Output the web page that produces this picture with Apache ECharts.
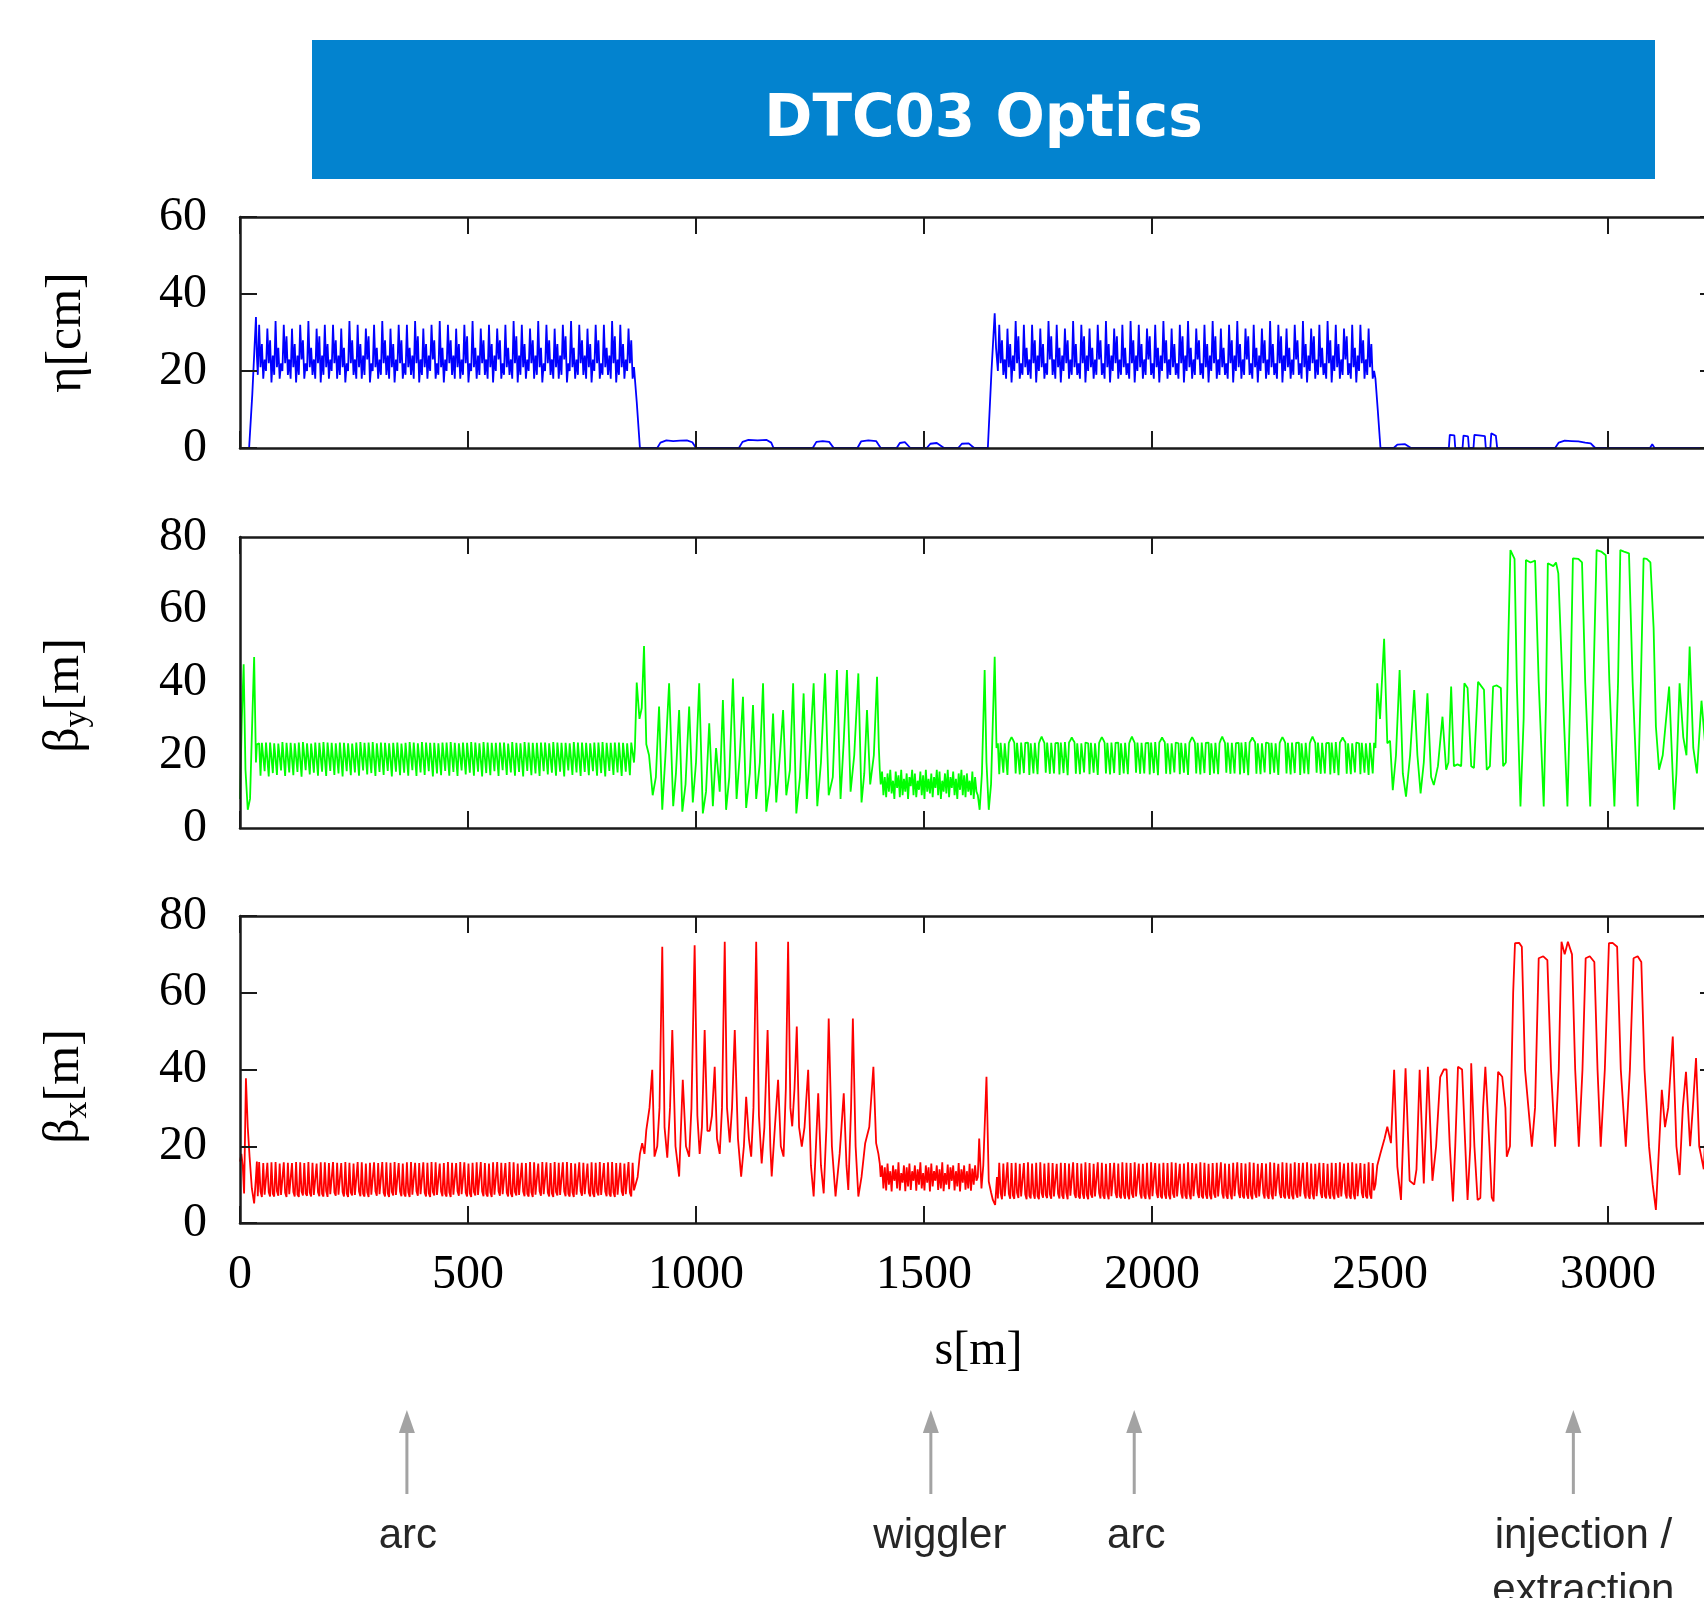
<!DOCTYPE html>
<html><head><meta charset="utf-8">
<script src="https://cdn.jsdelivr.net/npm/echarts@6/dist/echarts.min.js"></script>
<style>html,body{margin:0;padding:0;background:#fff}#c{width:1704px;height:1598px}</style>
</head><body><div id="c"></div>
<script>
// ================= DATA =================
const chartTitle = 'DTC03 Optics';
const sMax = 3239;                       // ring circumference [m]
const xTickLabels = [0, 500, 1000, 1500, 2000, 2500, 3000];
const xTickMarks = [0, 500, 1000, 1500, 2000, 3000];
const etaMax = 60, betaMax = 80;
const annotS = [366, 1515, 1961, 2924];
const annotText = ['arc', 'wiggler', 'arc', 'injection /\nextraction'];

// sampling of the dense periodic sections (arcs / wiggler)
const ARC_STEP = 3, ARC1_START = 39, ARC2_START = 1662, WIG_START = 1405;

// ---- eta [cm] ----
const etaPre = [[0,0],[20,0],[27,14],[35,34],[37,24]];
const etaArc1 = [
19,32,21,27,18,23, 20,31,22,28,17,24, 19,33,21,26,18,22, 20,32,22,29,19,23,
18,31,21,27,17,24, 19,32,23,28,18,22, 20,33,21,26,19,23, 18,31,22,29,17,24,
19,32,21,27,18,23, 20,32,22,28,18,24, 19,31,21,26,17,22, 20,33,22,28,19,23,
18,32,21,27,18,24, 19,31,23,29,17,22, 20,32,21,26,18,23, 19,33,22,28,19,24,
18,31,21,27,17,23, 20,32,22,28,18,22, 19,32,21,26,19,24, 18,33,22,29,17,23,
19,31,21,27,18,24, 20,32,23,28,18,22, 19,33,21,26,17,23, 20,32,22,28,19,24,
18,31,21,27,18,23, 19,32,22,29,17,22, 20,33,21,26,18,24, 19,31,22,28,19,23,
18,32,21,27,17,24, 20,31,23,28,18,22, 19,32,21,26,19,23, 18,33,22,29,17,24,
19,32,21,27,18,23, 20,31,22,28,18,24, 19,33,21,26,17,22, 20,32,22,28,19,23,
18,31,21,27,18,24, 19,32,23,29,17,22, 20,33,21,26,18,23, 19,32,22,28,19,24,
18,31,21,27,17,23, 20,32,22,28,18,22, 19,32,21,26,19,24, 18,33,22,29,17,23,
19,32,21,27,18,23, 20,31,22,28,18,21];
const etaMid = [[866,18],[870,12],[877,0],[915,0],[922,1.4],[935,2],[950,1.8],[965,1.9],[980,2],[992,1.5],[1000,0],
[1094,0],[1102,1.6],[1115,2.1],[1135,2],[1155,2.1],[1165,1.4],[1170,0],[1256,0],[1264,1.6],[1278,1.8],[1292,1.6],[1302,0],
[1354,0],[1362,1.7],[1378,2],[1395,1.8],[1405,0],[1440,0],[1447,1.3],[1458,1.5],[1470,0],[1506,0],[1514,1.1],[1528,1.3],[1544,0],
[1575,0],[1583,1.1],[1598,1.2],[1610,0],[1640,0],[1648,20],[1655,35],[1658,26]];
const etaArc2 = [
20,32,22,28,19,23, 18,31,21,27,17,24, 20,33,22,29,18,22, 19,32,21,26,19,23,
18,32,22,28,17,24, 20,31,21,27,18,22, 19,33,23,29,19,23, 18,32,21,26,17,24,
20,31,22,28,18,23, 19,33,21,27,19,22, 18,32,22,29,17,24, 20,31,21,26,18,23,
19,32,23,28,19,22, 18,33,21,27,17,24, 20,31,22,29,18,23, 19,32,21,26,19,22,
18,33,22,28,17,24, 20,32,21,27,18,23, 19,31,23,29,19,22, 18,32,21,26,17,24,
20,33,22,28,18,23, 19,31,21,27,19,22, 18,32,22,29,17,24, 20,33,21,26,18,23,
19,31,23,28,19,22, 18,32,21,27,17,24, 20,33,22,29,18,23, 19,31,21,26,19,22,
18,32,22,28,17,24, 20,33,21,27,18,23, 19,31,23,29,19,22, 18,32,21,26,17,24,
20,31,22,28,18,23, 19,33,21,27,19,22, 18,32,22,29,17,24, 20,31,21,26,18,23,
19,32,23,28,19,22, 18,33,21,27,17,24, 20,31,22,29,18,23, 19,32,21,26,19,22,
18,33,22,28,17,24, 20,32,21,27,18,23, 19,31,23,29,19,22, 18,32,21,26,17,24,
20,32,22,28,18,23, 19,31,21,27,18,20];
const etaPost = [[2490,18],[2495,10],[2501,0],[2530,0],[2538,0.9],[2555,1],[2568,0],[2651,0],[2653,3.4],[2663,3.3],[2665,0],
[2681,0],[2683,3.2],[2693,3.0],[2695,0],[2705,0],[2707,3.4],[2717,3.3],[2719,3.4],[2730,3.1],[2732,0],[2742,0],[2744,3.8],[2754,3.2],[2757,0],
[2884,0],[2892,1.4],[2905,1.9],[2920,1.8],[2935,1.7],[2950,1.4],[2962,1.2],[2972,0],[3092,0],[3097,1],[3102,0],[3239,0]];

// ---- beta_y [m] ----
const betaYPre = [[0,8],[4,30],[8,45],[12,16],[17,5],[22,8],[27,30],[31,47],[35,18],[37,23]];
const betaYArc1 = [
23.5,23.3,14.4,23.4,23.6,15.6, 23.5,23.2,14.2,23.5,23.6,15.1, 23.3,23.4,14.6,23.2,23.7,15.8, 23.6,23.1,14.3,23.4,23.5,15.3,
23.4,23.5,14.5,23.3,23.6,15.4, 23.5,23.2,14.1,23.6,23.4,15.9, 23.3,23.5,14.7,23.2,23.6,15.2, 23.5,23.3,14.4,23.4,23.7,15.5,
23.6,23.2,14.3,23.5,23.4,15.7, 23.4,23.5,14.6,23.3,23.6,15.0, 23.5,23.3,14.2,23.4,23.5,15.6, 23.3,23.6,14.5,23.2,23.4,15.3,
23.5,23.4,14.4,23.6,23.3,15.8, 23.4,23.2,14.7,23.5,23.6,15.1, 23.6,23.5,14.3,23.3,23.4,15.4, 23.5,23.3,14.6,23.4,23.6,15.7,
23.3,23.5,14.2,23.4,23.5,15.5, 23.5,23.4,14.5,23.2,23.6,15.2, 23.4,23.3,14.4,23.6,23.5,15.9, 23.5,23.6,14.3,23.3,23.4,15.3,
23.6,23.3,14.6,23.5,23.4,15.6, 23.4,23.5,14.2,23.4,23.6,15.0, 23.3,23.4,14.5,23.5,23.3,15.7, 23.5,23.2,14.4,23.6,23.5,15.4,
23.4,23.6,14.3,23.3,23.5,15.8, 23.5,23.4,14.7,23.4,23.2,15.2, 23.6,23.5,14.4,23.5,23.4,15.5, 23.3,23.4,14.2,23.6,23.6,15.1,
23.5,23.3,14.5,23.4,23.5,15.6, 23.4,23.6,14.3,23.5,23.3,15.9, 23.5,23.4,14.6,23.2,23.6,15.3, 23.6,23.5,14.4,23.4,23.4,15.4,
23.3,23.4,14.2,23.6,23.5,15.7, 23.5,23.3,14.5,23.4,23.6,15.0, 23.4,23.5,14.3,23.5,23.3,15.6, 23.5,23.6,14.7,23.3,23.4,15.2,
23.6,23.4,14.4,23.5,23.5,15.5, 23.4,23.3,14.2,23.4,23.6,15.8, 23.3,23.5,14.6,23.6,23.4,15.3, 23.5,23.4,14.3,23.5,23.5,15.4,
23.4,23.5,14.5,23.3,23.6,15.6, 23.5,23.4,14.4,23.5,23.3,15.1, 23.6,23.3,14.2,23.4,23.5,15.7, 23.4,23.6,14.6,23.5,23.4,15.3,
23.5,23.4,14.3,23.4,23.6,15.5, 23.3,23.5,14.5,23.5,23.4,18.0];
const betaYMid = [[866,22],[870,40],[876,30],[881,33],[886,50],[891,23],[897,20],[905,9],[912,14],[919,33.4],[926,5],[933,20],[941,39.8],
[950,6],[956,15],[963,32.4],[970,4.5],[977,12],[985,33.4],[993,7],[1000,18],[1007,39.8],[1015,4],[1022,10],[1029,28.8],[1037,6],
[1044,22],[1052,10],[1059,35.2],[1066,5],[1073,14],[1081,41.1],[1089,8],[1096,20],[1103,36.1],[1110,5.5],[1118,15],[1125,33.8],
[1132,8],[1140,18],[1147,39.8],[1154,4.5],[1162,12],[1169,31.5],[1176,7],[1184,20],[1191,32.4],[1198,9],[1206,16],[1213,39.8],
[1220,4],[1228,14],[1236,37],[1243,8],[1250,22],[1258,39.8],[1266,6],[1274,18],[1283,42.5],[1291,9],[1300,14],[1309,43.4],
[1317,8],[1324,24],[1331,43.4],[1339,10],[1347,20],[1356,42.5],[1363,7],[1369,15],[1375,32.4],[1382,12],[1390,20],[1397,41.6],
[1401,22],[1403,16]];
const betaYWig = [12,15.5,9,14,8.5,15,10,16,9.5,13, 8,15.5,11,14.5,8.5,16,9,13.5,10,15, 8,14,11.5,16,9,15,8.5,13,10.5,15.5,
9,14.5,8,16,10,13.5,9.5,15,8.5,14, 11,16,9,15.5,8,13,10,15,9.5,16, 8.5,14,11,15.5,9,13.5,8,15,10.5,16, 9,14.5,8.5,15,10,13,9,15.5,8,14, 10];
const betaYMid2 = [[1618,9],[1622,5],[1627,15],[1633,43.4],[1637,18],[1642,5],[1647,12],[1655,47.1],[1659,22]];
const betaYArc2 = [
23.3,14.8,23.4,23.6,15.2,23.3,23.5,14.6,23.4,24.2,25.0,24.3,23.5,15.0,23.4,23.2,14.7,23.5,23.3,15.1,23.4,23.6,
23.5,14.6,23.3,23.5,15.0,23.4,23.6,14.8,23.3,24.3,25.1,24.2,23.4,15.2,23.5,23.3,14.9,23.4,23.6,15.0,23.3,23.5,
23.4,14.7,23.5,23.3,15.1,23.6,23.4,14.5,23.5,24.1,24.9,24.2,23.6,14.9,23.3,23.5,14.8,23.3,23.4,15.3,23.5,23.4,
23.3,14.8,23.4,23.6,15.2,23.3,23.5,14.6,23.4,24.2,25.0,24.3,23.5,15.0,23.4,23.2,14.7,23.5,23.3,15.1,23.4,23.6,
23.5,14.6,23.3,23.5,15.0,23.4,23.6,14.8,23.3,24.3,25.1,24.2,23.4,15.2,23.5,23.3,14.9,23.4,23.6,15.0,23.3,23.5,
23.4,14.7,23.5,23.3,15.1,23.6,23.4,14.5,23.5,24.1,24.9,24.2,23.6,14.9,23.3,23.5,14.8,23.3,23.4,15.3,23.5,23.4,
23.3,14.8,23.4,23.6,15.2,23.3,23.5,14.6,23.4,24.2,25.0,24.3,23.5,15.0,23.4,23.2,14.7,23.5,23.3,15.1,23.4,23.6,
23.5,14.6,23.3,23.5,15.0,23.4,23.6,14.8,23.3,24.3,25.1,24.2,23.4,15.2,23.5,23.3,14.9,23.4,23.6,15.0,23.3,23.5,
23.4,14.7,23.5,23.3,15.1,23.6,23.4,14.5,23.5,24.1,24.9,24.2,23.6,14.9,23.3,23.5,14.8,23.3,23.4,15.3,23.5,23.4,
23.3,14.8,23.4,23.6,15.2,23.3,23.5,14.6,23.4,24.2,25.0,24.3,23.5,15.0,23.4,23.2,14.7,23.5,23.3,15.1,23.4,23.6,
23.5,14.6,23.3,23.5,15.0,23.4,23.6,14.8,23.3,24.3,25.1,24.2,23.4,15.2,23.5,23.3,14.9,23.4,23.6,15.0,23.3,23.5,
23.4,14.7,23.5,23.3,15.1,23.6,23.4,14.5,23.5,24.1,24.9,24.2,23.6,14.9,23.3,23.5,14.8,23.3,23.4,15.3,23.5,23.4,
23.3,14.8,23.4,23.6,15.2,23.3,23.5,14.6,23.4,23.5,15.0,23.4];
const betaYPost = [[2490,22],[2494,39.8],[2500,30],[2509,52],[2516,23.3],[2522,24],[2528,10.4],[2535,20],[2543,43.4],[2550,15],
[2557,8.6],[2566,20],[2575,37.9],[2582,20],[2589,9.5],[2596,18],[2604,37],[2612,14],[2618,11.8],[2627,17],[2637,30.6],[2645,16],
[2650,18],[2656,38.9],[2662,17],[2670,17.5],[2678,17],[2685,39.8],[2692,38.5],[2700,17],[2706,16.5],[2715,40.2],[2722,39],
[2728,38],[2734,16],[2741,17],[2748,38.9],[2756,39.2],[2765,38.5],[2770,17],[2776,18],[2781,50],[2786,76.4],[2795,74],[2800,40],
[2808,5.9],[2815,30],[2820,73.7],[2830,73],[2840,73.5],[2848,40],[2859,5.9],[2864,35],[2868,72.8],[2880,72],[2886,73],[2891,70],
[2900,40],[2911,5.9],[2918,40],[2923,74.1],[2935,74],[2943,73],[2950,40],[2961,5.9],[2968,40],[2975,76.4],[2985,76],[2995,75],
[3003,40],[3014,5.9],[3022,40],[3027,76.4],[3035,76],[3046,75.5],[3054,40],[3065,5.9],[3072,40],[3078,74.1],[3085,74],[3093,73],
[3100,55],[3105,27.9],[3112,16],[3120,20],[3134,38.9],[3145,5],[3150,15],[3157,39.8],[3165,25],[3172,20],[3179,49.9],[3187,22],
[3195,15],[3205,35],[3215,20],[3225,30],[3239,22]];

// ---- beta_x [m] ----
const betaXPre = [[0,16],[3,18],[6,15],[9,7.7],[13,37.7],[17,25],[21,17.3],[26,9],[31,5.1],[35,12],[37,16]];
const betaXArc1 = [
7.0,15.9,8.2,6.8,15.6,7.4, 7.2,15.7,8.0,6.9,15.8,7.6, 6.9,15.9,8.3,7.1,15.5,7.3, 7.1,15.8,7.9,6.8,15.7,7.5,
7.0,15.6,8.1,6.9,15.9,7.4, 6.8,15.8,8.2,7.2,15.6,7.7, 7.1,15.9,7.9,6.9,15.7,7.3, 7.0,15.5,8.0,7.0,15.8,7.6,
6.9,15.8,8.3,6.8,15.6,7.5, 7.2,15.9,8.0,7.1,15.7,7.4, 7.0,15.6,8.1,6.9,15.9,7.7, 6.8,15.7,7.9,7.2,15.5,7.3,
7.1,15.9,8.2,7.0,15.8,7.6, 6.9,15.5,8.0,6.8,15.7,7.4, 7.2,15.8,8.3,7.1,15.6,7.5, 7.0,15.9,7.9,6.9,15.8,7.7,
6.8,15.7,8.1,7.2,15.9,7.3, 7.1,15.6,8.2,7.0,15.5,7.6, 6.9,15.8,8.0,6.8,15.9,7.4, 7.2,15.7,8.3,7.1,15.6,7.5,
7.0,15.8,7.9,6.9,15.7,7.7, 6.8,15.9,8.1,7.2,15.8,7.3, 7.1,15.5,8.2,7.0,15.6,7.6, 6.9,15.9,8.0,6.8,15.7,7.4,
7.2,15.6,8.3,7.1,15.9,7.5, 7.0,15.8,7.9,6.9,15.5,7.7, 6.8,15.7,8.1,7.2,15.8,7.3, 7.1,15.9,8.2,7.0,15.6,7.6,
6.9,15.5,8.0,6.8,15.8,7.4, 7.2,15.9,8.3,7.1,15.7,7.5, 7.0,15.6,7.9,6.9,15.9,7.7, 6.8,15.8,8.1,7.2,15.5,7.3,
7.1,15.7,8.2,7.0,15.6,7.6, 6.9,15.9,8.0,6.8,15.8,7.4, 7.2,15.5,8.3,7.1,15.9,7.5, 7.0,15.8,7.9,6.9,15.6,7.7,
6.8,15.9,8.1,7.2,15.7,7.3, 7.1,15.8,8.2,7.0,15.9,7.6, 6.9,15.6,8.0,6.8,15.5,7.4, 7.2,15.8,8.3,7.1,15.7,7.5,
7.0,15.5,7.9,6.9,15.8,7.7, 6.8,15.7,8.1,7.2,15.9,7.3, 7.1,15.6,8.2,7.0,15.8,7.6, 6.9,15.9,8.0,6.8,15.6,7.4,
7.2,15.7,8.3,7.1,15.5,7.5, 7.0,15.9,7.9,6.9,15.7,8.5];
const betaXMid = [[866,8],[872,12],[877,18],[882,20.8],[887,18],[891,24.2],[898,30],[904,39.9],[909,17.3],[915,20],[920,30],[926,72],
[931,25],[937,17],[943,30],[948,50.3],[955,20],[963,12.1],[971,37.3],[978,20],[985,17.3],[990,30],[997,72.4],[1003,28],[1008,18],
[1013,25],[1019,50.3],[1025,24],[1030,24],[1035,28],[1041,40.7],[1046,22],[1052,18],[1057,30],[1063,73.3],[1068,30],[1074,21],
[1079,30],[1085,50.3],[1092,22],[1099,12.1],[1105,20],[1110,32.9],[1116,22],[1121,17.3],[1126,30],[1132,73.3],[1138,28],
[1144,15.5],[1150,25],[1157,50.3],[1163,20],[1166,12.1],[1173,25],[1180,37.3],[1186,20],[1192,17.3],[1197,35],[1202,73.3],
[1207,30],[1211,25.2],[1216,35],[1221,51.2],[1226,25],[1232,19.9],[1238,25],[1246,39.9],[1252,15],[1258,6.9],[1263,20],
[1268,33.8],[1274,15],[1280,7.7],[1286,25],[1291,53.3],[1298,20],[1306,6.9],[1315,18],[1324,33.8],[1330,15],[1334,8.6],
[1340,30],[1344,53.3],[1350,20],[1356,6.9],[1363,12],[1371,20.8],[1380,25],[1389,40.7],[1395,20.8],[1400,18],[1403,15.5]];
const betaXWig = [12,15,9,14.5,8.5,15.5,10,13.5,8.2,15, 11,14,9,15.8,8.5,13,10.5,15,8.3,14.5, 9.5,15.5,8.6,13.5,11,15,8.4,14,10,15.8,
9,13,8.5,15,10.5,14.5,8.2,15.5,9.5,13.5, 11,15,8.6,14,9,15.8,8.3,13,10,15.2, 8.8,14.5,11,15,8.5,13.5,9.5,15.6,8.2,14,
10.5,15,8.7,13.5,9,15.4,8.4,14.2,10,15, 11];
const betaXMid2 = [[1618,12],[1621,22],[1626,9],[1630,15],[1637,38.1],[1642,10.8],[1647,8],[1651,6],[1656,4.7],[1660,12]];
const betaXArc2 = [
6.4,15.7,7.8,6.2,15.5,7.0, 6.6,15.8,7.6,6.3,15.6,7.2, 6.3,15.7,7.9,6.5,15.4,6.9, 6.5,15.6,7.5,6.2,15.8,7.1,
6.4,15.5,7.7,6.3,15.7,7.0, 6.2,15.8,7.8,6.6,15.5,7.3, 6.5,15.7,7.5,6.3,15.6,6.9, 6.4,15.4,7.6,6.4,15.7,7.2,
6.3,15.6,7.9,6.2,15.5,7.1, 6.6,15.8,7.6,6.5,15.6,7.0, 6.4,15.5,7.7,6.3,15.8,7.3, 6.2,15.6,7.5,6.6,15.4,6.9,
6.5,15.8,7.8,6.4,15.7,7.2, 6.3,15.4,7.6,6.2,15.6,7.0, 6.6,15.7,7.9,6.5,15.5,7.1, 6.4,15.8,7.5,6.3,15.7,7.3,
6.2,15.6,7.7,6.6,15.8,6.9, 6.5,15.5,7.8,6.4,15.4,7.2, 6.3,15.7,7.6,6.2,15.8,7.0, 6.6,15.6,7.9,6.5,15.5,7.1,
6.4,15.7,7.5,6.3,15.6,7.3, 6.2,15.8,7.7,6.6,15.7,6.9, 6.5,15.4,7.8,6.4,15.5,7.2, 6.3,15.8,7.6,6.2,15.6,7.0,
6.6,15.5,7.9,6.5,15.8,7.1, 6.4,15.7,7.5,6.3,15.4,7.3, 6.2,15.6,7.7,6.6,15.7,6.9, 6.5,15.8,7.8,6.4,15.5,7.2,
6.3,15.4,7.6,6.2,15.7,7.0, 6.6,15.8,7.9,6.5,15.6,7.1, 6.4,15.5,7.5,6.3,15.8,7.3, 6.2,15.7,7.7,6.6,15.4,6.9,
6.5,15.6,7.8,6.4,15.5,7.2, 6.3,15.8,7.6,6.2,15.7,7.0, 6.6,15.4,7.9,6.5,15.8,7.1, 6.4,15.7,7.5,6.3,15.5,7.3,
6.2,15.8,7.7,6.6,15.6,6.9, 6.5,15.7,7.8,6.4,15.8,7.2, 6.3,15.5,7.6,6.2,15.4,7.0, 6.6,15.7,7.9,6.5,15.6,7.1,
6.4,15.4,7.5,6.3,15.7,7.3, 6.2,15.6,7.7,6.6,15.8,6.9, 6.5,15.5,7.8,6.4,15.7,7.2, 6.3,15.8,7.6,6.2,15.5,7.0,
6.6,15.6,7.9,6.5,15.4,7.1, 6.4,15.8,7.5,6.3,15.6,8.5];
const betaXPost = [[2490,10],[2494,15],[2501,18.2],[2510,22],[2516,25.1],[2524,20.8],[2531,39.9],[2538,14.7],[2546,6],[2556,40.3],
[2565,11],[2575,10],[2580,14],[2587,39.9],[2596,10.3],[2605,40.7],[2615,11],[2623,20],[2632,38],[2640,40],[2646,40],[2653,20],
[2660,5.6],[2665,20],[2671,40.7],[2680,40],[2687,20],[2692,6],[2698,20],[2700,41.6],[2707,20],[2714,6],[2720,6.5],[2726,30],
[2731,40.7],[2740,20],[2745,6.7],[2749,5.6],[2754,25],[2759,39.4],[2768,38.1],[2775,30],[2778,17.3],[2785,20],[2792,60],
[2796,72.9],[2805,73],[2811,72],[2818,40],[2833,19.9],[2840,30],[2848,69],[2858,69.5],[2867,68.5],[2875,40],[2884,19.9],
[2892,40],[2898,73.3],[2905,70],[2912,73.3],[2921,70],[2928,40],[2936,19.9],[2944,40],[2951,69],[2960,69.5],[2970,68],[2977,40],
[2984,19.9],[2993,40],[3002,72.9],[3010,73],[3020,72],[3028,40],[3039,19.9],[3048,40],[3056,69],[3065,69.5],[3073,68],[3080,40],
[3090,19.9],[3098,10],[3105,3.4],[3112,20],[3118,34.7],[3125,25],[3132,30],[3142,48.6],[3150,20],[3157,12.5],[3164,30],
[3171,39.4],[3180,20],[3186,30],[3193,43],[3200,20],[3210,14],[3218,36],[3226,18],[3239,25]];

// ================= BUILD =================
function sampled(start, step, vals) { return vals.map((v, i) => [start + i * step, v]); }
function assemble(parts) { return [].concat(...parts).sort((a, b) => a[0] - b[0]); }

const etaData = assemble([etaPre, sampled(ARC1_START, ARC_STEP, etaArc1), etaMid, sampled(ARC2_START, ARC_STEP, etaArc2), etaPost]);
const betaYData = assemble([betaYPre, sampled(ARC1_START, ARC_STEP, betaYArc1), betaYMid, sampled(WIG_START, ARC_STEP, betaYWig), betaYMid2, sampled(ARC2_START, ARC_STEP, betaYArc2), betaYPost]);
const betaXData = assemble([betaXPre, sampled(ARC1_START, ARC_STEP, betaXArc1), betaXMid, sampled(WIG_START, ARC_STEP, betaXWig), betaXMid2, sampled(ARC2_START, ARC_STEP, betaXArc2), betaXPost]);

// ================= LAYOUT / STYLE =================
const PLOT_LEFT = 240, PLOT_WIDTH = 1477;
const panels = [
  { top: 217, height: 231, max: etaMax, name: 'η[cm]', color: '#0000ff', data: etaData, yTicks: true, gap: 148, pad: [0,0,0,0] },
  { top: 537, height: 291, max: betaMax, name: '{a|β}{b|y}{a|[m]}', color: '#00ff00', data: betaYData, yTicks: false, gap: 146, pad: [0,26,0,0] },
  { top: 916, height: 307, max: betaMax, name: '{a|β}{b|x}{a|[m]}', color: '#ff0000', data: betaXData, yTicks: true, gap: 146, pad: [0,34,0,0] }
];
const AX = '#1a1a1a';
const SERIF = '"Liberation Serif", "Times New Roman", serif';

const grid = [], xAxis = [], yAxis = [], series = [];
panels.forEach((p, i) => {
  grid.push({ left: PLOT_LEFT, width: PLOT_WIDTH, top: p.top, height: p.height, containLabel: false, outerBoundsMode: 'none' });
  const last = i === panels.length - 1;
  ['bottom', 'top'].forEach(pos => {
    xAxis.push({
      type: 'value', gridIndex: i, min: 0, max: sMax, position: pos, z: 5,
      axisLine: { show: true, onZero: false, lineStyle: { color: AX, width: 2.5 } },
      axisTick: { show: true, inside: true, length: 17, customValues: xTickMarks, lineStyle: { color: AX, width: 2 } },
      axisLabel: (pos === 'bottom' && last)
        ? { show: true, customValues: xTickLabels, formatter: v => String(v), margin: 28, fontFamily: SERIF, fontSize: 48, color: '#000' }
        : { show: false },
      splitLine: { show: false },
      name: (pos === 'bottom' && last) ? 's[m]' : '',
      nameLocation: 'middle', nameGap: 104,
      nameTextStyle: { fontFamily: SERIF, fontSize: 48, color: '#000' }
    });
  });
  ['left', 'right'].forEach(pos => {
    yAxis.push({
      type: 'value', gridIndex: i, min: 0, max: p.max, interval: 20, position: pos, z: 5,
      axisLine: { show: true, onZero: false, lineStyle: { color: AX, width: 2.5 } },
      axisTick: { show: p.yTicks, inside: true, length: 17, lineStyle: { color: AX, width: 2 } },
      axisLabel: pos === 'left' ? { show: true, margin: 33, fontFamily: SERIF, fontSize: 48, color: '#000' } : { show: false },
      splitLine: { show: false },
      name: pos === 'left' ? p.name : '',
      nameLocation: 'middle', nameRotate: 90, nameGap: p.gap,
      nameTextStyle: {
        fontFamily: SERIF, fontSize: 50, color: '#000', padding: p.pad,
        rich: { a: { fontFamily: SERIF, fontSize: 50, lineHeight: 58, color: '#000' },
                b: { fontFamily: SERIF, fontSize: 34, lineHeight: 34, verticalAlign: 'bottom', color: '#000' } }
      }
    });
  });
  series.push({
    type: 'line', xAxisIndex: 2 * i, yAxisIndex: 2 * i, data: p.data,
    showSymbol: false, symbol: 'none', clip: true, animation: false, z: 2,
    lineStyle: { color: p.color, width: 1.8 }
  });
});

const chart = echarts.init(document.getElementById('c'), null, { renderer: 'canvas' });
chart.setOption({ animation: false, backgroundColor: '#fff', grid, xAxis, yAxis, series });

// ---- title bar + annotations (graphic) ----
const ANN = { tipY: 1410, headY: 1433, baseY: 1494, half: 8, textY: 1536, lineGap: 55, dx: [1, 9, 2, 10] };
const graphics = [
  { type: 'rect', shape: { x: 312, y: 40, width: 1343, height: 139 }, style: { fill: '#0383cf' }, z: 10 },
  { type: 'text', x: 983.5, y: 121, z: 11,
    style: { text: chartTitle, fill: '#ffffff', font: 'bold 58px "DejaVu Sans", sans-serif', textAlign: 'center', textVerticalAlign: 'middle' } }
];
annotS.forEach((s, k) => {
  const x = chart.convertToPixel({ xAxisIndex: 4 }, s);
  graphics.push({ type: 'line', shape: { x1: x, y1: ANN.baseY, x2: x, y2: ANN.headY - 2 }, style: { stroke: '#a3a3a3', lineWidth: 3 }, z: 10 });
  graphics.push({ type: 'polygon', shape: { points: [[x, ANN.tipY], [x - ANN.half, ANN.headY], [x + ANN.half, ANN.headY]] }, style: { fill: '#a3a3a3' }, z: 10 });
  annotText[k].split('\n').forEach((line, j) => {
    graphics.push({ type: 'text', x: x + ANN.dx[k], y: ANN.textY + j * ANN.lineGap, z: 11,
      style: { text: line, fill: '#262626', font: '42px "Liberation Sans", Arial, sans-serif', textAlign: 'center', textVerticalAlign: 'middle' } });
  });
});
chart.setOption({ graphic: graphics });
</script></body></html>
